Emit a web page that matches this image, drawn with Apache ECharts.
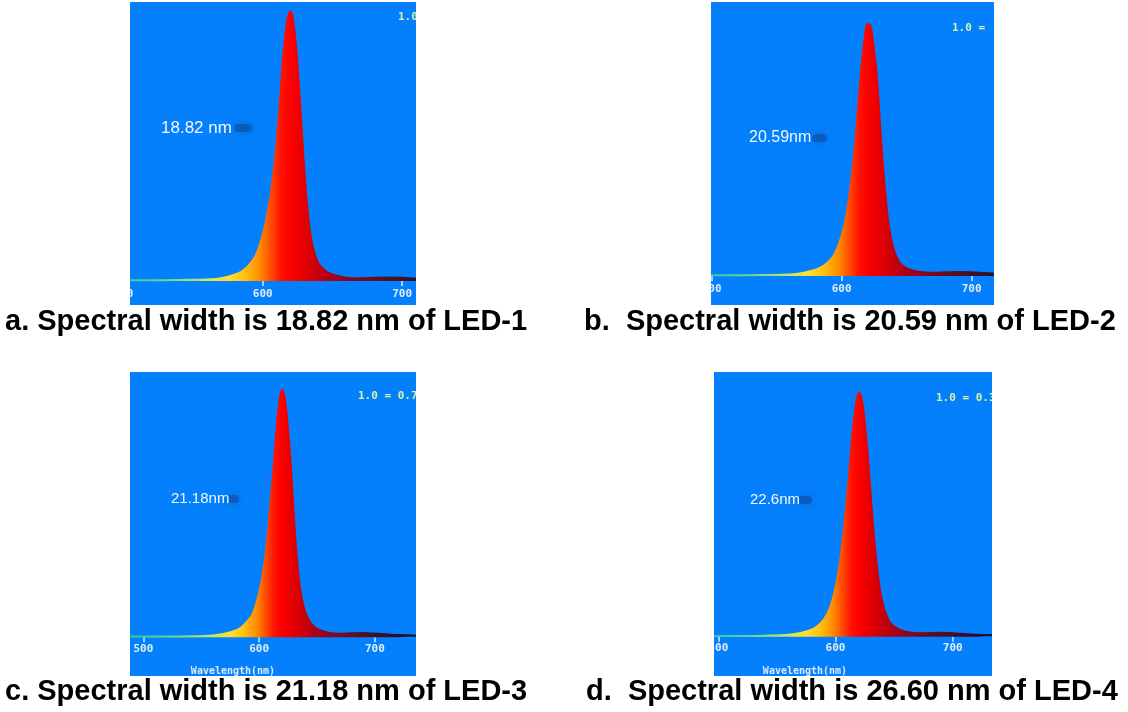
<!DOCTYPE html>
<html><head><meta charset="utf-8">
<script src="https://cdn.jsdelivr.net/npm/echarts@6/dist/echarts.min.js"></script>
<style>html,body{margin:0;padding:0;background:#fff;}#c{width:1128px;height:712px;}</style>
</head><body><div id="c"></div>
<script>
// ---- data ----
const wavelengths = [485, 500, 520, 540, 560, 570, 580, 585, 590, 595, 600, 603, 606, 609, 612, 615, 618, 620, 622, 624, 627, 630, 633, 636, 640, 645, 650, 660, 670, 680, 690, 700, 710, 720, 740];
const led1 = [0.003, 0.003, 0.003, 0.004, 0.006, 0.010, 0.024, 0.036, 0.058, 0.095, 0.170, 0.240, 0.330, 0.460, 0.640, 0.850, 0.975, 0.998, 0.955, 0.860, 0.640, 0.400, 0.220, 0.125, 0.065, 0.037, 0.024, 0.012, 0.010, 0.012, 0.013, 0.012, 0.009, 0.007, 0.005];
const led2 = [0.003, 0.003, 0.003, 0.004, 0.006, 0.012, 0.025, 0.037, 0.056, 0.090, 0.160, 0.220, 0.320, 0.450, 0.620, 0.810, 0.950, 0.995, 0.990, 0.930, 0.790, 0.560, 0.360, 0.210, 0.105, 0.050, 0.030, 0.016, 0.013, 0.015, 0.016, 0.015, 0.012, 0.009, 0.006];
const led3 = [0.003, 0.003, 0.003, 0.004, 0.007, 0.014, 0.028, 0.042, 0.065, 0.100, 0.180, 0.250, 0.350, 0.500, 0.660, 0.840, 0.970, 1.000, 0.970, 0.890, 0.720, 0.490, 0.300, 0.180, 0.100, 0.055, 0.034, 0.018, 0.014, 0.016, 0.017, 0.015, 0.012, 0.009, 0.006];
const led4 = [0.003, 0.003, 0.003, 0.004, 0.008, 0.015, 0.030, 0.045, 0.070, 0.115, 0.200, 0.280, 0.390, 0.530, 0.690, 0.860, 0.970, 1.000, 0.980, 0.920, 0.770, 0.580, 0.400, 0.260, 0.140, 0.070, 0.042, 0.020, 0.014, 0.015, 0.016, 0.014, 0.011, 0.008, 0.006];
const xTicks = [500, 600, 700];
const widthLabels = ['18.82 nm', '20.59nm', '21.18nm', '22.6nm'];
const scaleLabels = ['1.0', '1.0 =', '1.0 = 0.75', '1.0 = 0.3'];
const captions = ['a. Spectral width is 18.82 nm of LED-1', 'b.  Spectral width is 20.59 nm of LED-2', 'c. Spectral width is 21.18 nm of LED-3', 'd.  Spectral width is 26.60 nm of LED-4'];
const axisNames = [null, null, 'Wavelength(nm)', 'Wavelength(nm)'];
const seriesData = [led1, led2, led3, led4];

// ---- layout / style ----
const panels = [
  {box:[130,2,286,303], gl:123.4, gw:292.6, xMin:500, xMax:710, base:281, peak:10.7, lm:8, ann:[161,128,17], blur:[234,124,18,8], sc:[398,17], cap:[5,322], an:null},
  {box:[711,2,283,303], gl:711, gw:283, xMin:499.5, xMax:717.2, base:276, peak:22.7, lm:8, ann:[749,138,16], blur:[812,134,15,8], sc:[952,28], cap:[584,322], an:null},
  {box:[130,372,286,304], gl:130, gw:286, xMin:488.5, xMax:735.5, base:637.3, peak:390, lm:6, ann:[171,499,15], blur:[227,495,12,8], sc:[358,396], cap:[5,692], an:[233,671]},
  {box:[714,372,278,304], gl:714, gw:278, xMin:496.3, xMax:733.5, base:636.7, peak:392.7, lm:6, ann:[750,500,15], blur:[798,496,14,8], sc:[936,398], cap:[586,692], an:[805,671]}
];
const specStops = [[485,'#1fc4b0'],[530,'#5fd890'],[560,'#c8e860'],[575,'#ffe030'],[588,'#ffbc10'],[598,'#ff8a00'],[606,'#ff4a00'],[613,'#ff1400'],[620,'#fb0000'],[628,'#e80000'],[638,'#cc0008'],[650,'#a8001a'],[665,'#800820'],[685,'#581020'],[705,'#381028'],[740,'#1a0a2a']];
const wMin = wavelengths[0], wMax = wavelengths[wavelengths.length-1];
function grad(){
  return new echarts.graphic.LinearGradient(0,0,1,0, specStops.map(s=>({offset:(s[0]-wMin)/(wMax-wMin), color:s[1]})));
}
const BLUE = '#0580fc';
const mono = '"DejaVu Sans Mono", monospace';
const grids=[], xAxes=[], yAxes=[], series=[], graphics=[];
panels.forEach((p,i)=>{
  const [bx,by,bw,bh] = p.box;
  const unit = p.base - p.peak;
  grids.push({left:p.gl, top:by, width:p.gw, height:p.base-by, containLabel:false});
  xAxes.push({type:'value', gridIndex:i, min:p.xMin, max:p.xMax, position:'bottom',
    axisLine:{show:false, onZero:false},
    axisTick:{show:true, customValues:xTicks, length:5, lineStyle:{color:'#d8e8ff', width:1.5}},
    axisLabel:{show:true, customValues:xTicks, margin:p.lm, color:'#e2ecf8', fontFamily:mono, fontWeight:'bold', fontSize:11},
    splitLine:{show:false}});
  yAxes.push({type:'value', gridIndex:i, min:0, max:(p.base-by)/unit, show:false, splitLine:{show:false}});
  series.push({type:'line', xAxisIndex:i, yAxisIndex:i, data:wavelengths.map((w,k)=>[w, seriesData[i][k]]),
    showSymbol:false, smooth:0.4, clip:false, lineStyle:{width:2, color:grad()}, areaStyle:{color:grad(), opacity:1}, z:2, silent:true});
  graphics.push({type:'rect', z:-100, shape:{x:bx,y:by,width:bw,height:bh}, style:{fill:BLUE}});
  graphics.push({type:'rect', z:100, shape:{x:bx-60,y:by,width:60,height:bh}, style:{fill:'#fff'}});
  graphics.push({type:'rect', z:100, shape:{x:bx+bw,y:by,width:60,height:bh}, style:{fill:'#fff'}});
  graphics.push({type:'rect', z:50, shape:{x:p.blur[0],y:p.blur[1],width:p.blur[2],height:p.blur[3],r:4},
    style:{fill:'rgba(20,50,110,0.35)', shadowBlur:9, shadowColor:'rgba(10,40,95,0.75)'}});
  graphics.push({type:'text', z:60, x:p.ann[0], y:p.ann[1], style:{text:widthLabels[i], fill:'#f2f6ff', font:p.ann[2]+'px "Liberation Sans", Arial, sans-serif', align:'left', verticalAlign:'middle'}});
  graphics.push({type:'text', z:60, x:p.sc[0], y:p.sc[1], style:{text:scaleLabels[i], fill:'#d4f2a8', font:'bold 11px '+mono, align:'left', verticalAlign:'middle'}});
  if (axisNames[i]) graphics.push({type:'text', z:60, x:p.an[0], y:p.an[1], style:{text:axisNames[i], fill:'#dce9f7', font:'bold 10px '+mono, align:'center', verticalAlign:'middle'}});
  graphics.push({type:'text', z:110, x:p.cap[0], y:p.cap[1], style:{text:captions[i], fill:'#000', font:'bold 29px "Liberation Sans", Arial, sans-serif', align:'left', verticalAlign:'middle'}});
});
const chart = echarts.init(document.getElementById('c'), null, {renderer:'canvas'});
chart.setOption({animation:false, grid:grids, xAxis:xAxes, yAxis:yAxes, series:series, graphic:{elements:graphics}});
</script></body></html>
